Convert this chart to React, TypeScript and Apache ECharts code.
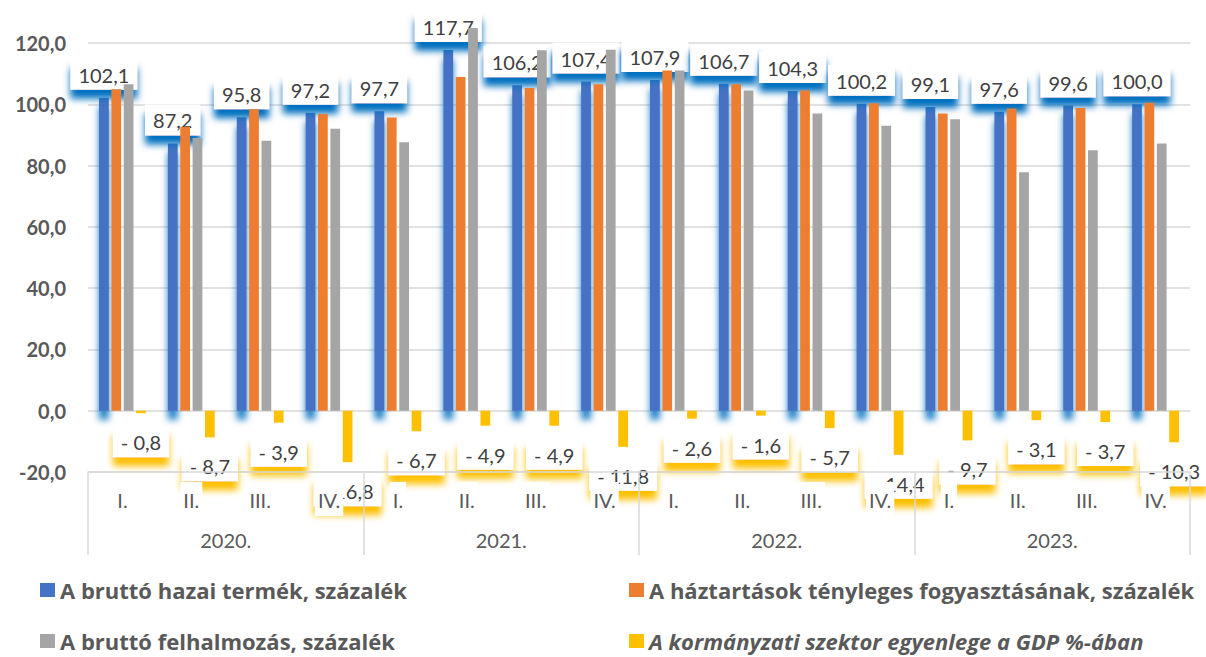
import React, { useEffect, useRef } from "react";
import * as echarts from "echarts";

const quarters = ["I.", "II.", "III.", "IV.", "I.", "II.", "III.", "IV.", "I.", "II.", "III.", "IV.", "I.", "II.", "III.", "IV."];
const years = ["2020.", "2021.", "2022.", "2023."];
const yTicks = { min: -20, max: 140, interval: 20 };

const seriesNames = [
  "A bruttó hazai termék, százalék",
  "A háztartások tényleges fogyasztásának, százalék",
  "A bruttó felhalmozás, százalék",
  "A kormányzati szektor egyenlege a GDP %-ában",
];

const gdp = [102.1, 87.2, 95.8, 97.2, 97.7, 117.7, 106.2, 107.4, 107.9, 106.7, 104.3, 100.2, 99.1, 97.6, 99.6, 100.0];
const consumption = [104.9, 92.6, 98.4, 96.8, 95.7, 108.9, 105.3, 106.5, 111.0, 106.5, 104.5, 100.3, 97.0, 98.6, 98.8, 100.5];
const investment = [106.5, 89.0, 88.1, 92.0, 87.6, 124.9, 117.6, 117.8, 111.0, 104.5, 97.0, 93.0, 95.1, 77.8, 85.0, 87.2];
const govBalance = [-0.8, -8.7, -3.9, -16.8, -6.7, -4.9, -4.9, -11.8, -2.6, -1.6, -5.7, -14.4, -9.7, -3.1, -3.7, -10.3];

const colors = ["#4472c4", "#ed7d31", "#a5a5a5", "#ffc000"];
const FONT = "Lato, 'Noto Sans', sans-serif";
const LEGEND_FONT = "'Open Sans', 'Noto Sans', sans-serif";

const fmt = (v: number) => {
  const s = Math.abs(v).toFixed(1).replace(".", ",");
  return v < 0 ? "- " + s : s;
};

export default function App() {
  const ref = useRef<HTMLDivElement>(null);
  useEffect(() => {
    if (!ref.current) return;
    const chart = echarts.init(ref.current, undefined, { renderer: "svg" });
    const labelBase = {
      show: true,
      fontSize: 20,
      fontFamily: FONT,
      color: "#404040",
      backgroundColor: "#ffffff",
      padding: [6, 8, 5, 8],
      formatter: (p: any) => fmt(p.value),
    };
    const legendBase = {
      orient: "horizontal",
      padding: 0,
      icon: "rect",
      itemWidth: 15,
      itemHeight: 14,
      selectedMode: false,
      itemStyle: { shadowBlur: 0, shadowColor: "transparent", shadowOffsetY: 0 },
      textStyle: { fontSize: 22, fontWeight: "bold", color: "#595959", fontFamily: LEGEND_FONT },
    };
    chart.setOption({
      animation: false,
      backgroundColor: "#ffffff",
      color: colors,
      grid: { left: 88, right: 16, top: -18.3, bottom: 185, containLabel: false, outerBoundsMode: "none" },
      legend: [
        { ...legendBase, left: 40, top: 579, data: [seriesNames[0]] },
        { ...legendBase, left: 629, top: 579, data: [seriesNames[1]] },
        { ...legendBase, left: 40, top: 630, data: [seriesNames[2]] },
        {
          ...legendBase,
          left: 629,
          top: 630,
          data: [seriesNames[3]],
          textStyle: { ...legendBase.textStyle, fontStyle: "italic" },
        },
      ],
      xAxis: [
        {
          type: "category",
          data: quarters,
          position: "bottom",
          z: 10,
          axisLine: { show: true, onZero: false, lineStyle: { color: "#d9d9d9", width: 1.5 } },
          axisTick: { show: false },
          axisLabel: {
            interval: 0,
            margin: 10,
            fontSize: 20,
            fontFamily: FONT,
            color: "#595959",
            backgroundColor: "#ffffff",
            padding: [8, 3, 6, 3],
          },
        },
        {
          type: "category",
          data: years,
          position: "bottom",
          z: 10,
          axisLine: { show: false, onZero: false },
          axisTick: { show: true, length: 83, lineStyle: { color: "#d9d9d9", width: 1.5 } },
          axisLabel: { margin: 58, fontSize: 20, fontFamily: FONT, color: "#595959" },
        },
      ],
      yAxis: {
        type: "value",
        min: yTicks.min,
        max: yTicks.max,
        interval: yTicks.interval,
        axisLine: { show: false },
        axisTick: { show: false },
        splitLine: { lineStyle: { color: "#d9d9d9", width: 1.5 } },
        axisLabel: {
          margin: 22,
          showMaxLabel: false,
          fontSize: 20,
          fontWeight: "bold",
          fontFamily: FONT,
          color: "#595959",
          formatter: (v: number) => v.toFixed(1).replace(".", ","),
        },
      },
      series: [
        {
          name: seriesNames[0],
          type: "bar",
          data: gdp,
          z: 1,
          barGap: "27%",
          barCategoryGap: "32%",
          itemStyle: { color: colors[0], shadowColor: "rgba(0,112,192,0.9)", shadowBlur: 7, shadowOffsetY: 9 },
          label: {
            ...labelBase,
            position: "top",
            distance: 8,
            shadowColor: "rgba(0,112,192,1)",
            shadowBlur: 7,
            shadowOffsetY: 9,
          },
        },
        {
          name: seriesNames[1],
          type: "bar",
          data: consumption,
          z: 3,
          barGap: "27%",
          barCategoryGap: "32%",
          itemStyle: { color: colors[1] },
        },
        {
          name: seriesNames[2],
          type: "bar",
          data: investment,
          z: 3,
          barGap: "27%",
          barCategoryGap: "32%",
          itemStyle: { color: colors[2] },
        },
        {
          name: seriesNames[3],
          type: "bar",
          data: govBalance,
          z: 2,
          barGap: "27%",
          barCategoryGap: "32%",
          itemStyle: { color: colors[3] },
          label: {
            ...labelBase,
            position: "bottom",
            distance: 13,
            shadowColor: "rgba(255,192,0,1)",
            shadowBlur: 7,
            shadowOffsetY: 9,
          },
        },
      ],
    });
    return () => chart.dispose();
  }, []);
  return <div ref={ref} style={{ position: "fixed", left: 0, top: 0, width: 1206, height: 657 }} />;
}
